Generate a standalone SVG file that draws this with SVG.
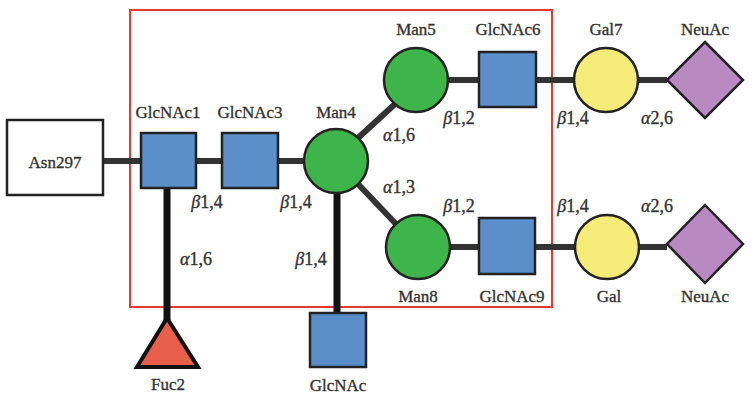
<svg xmlns="http://www.w3.org/2000/svg" width="754" height="394" viewBox="0 0 754 394">
<style>
.t{font-family:"Liberation Serif","Times New Roman",serif;font-size:17px;fill:#333;stroke:#333;stroke-width:0.35;text-anchor:middle}
.lb{font-size:18px}
.g{font-style:italic}
.ln{stroke:#333;stroke-width:6;fill:none}
.lv{stroke:#111;stroke-width:7;fill:none}
.sq{fill:#5b8fc9;stroke:#222;stroke-width:2.5}
.man{fill:#3db54b;stroke:#222;stroke-width:2.5}
.gal{fill:#f5eb78;stroke:#222;stroke-width:2.5}
.neu{fill:#b98ac2;stroke:#222;stroke-width:2.5}
.fuc{fill:#e8604b;stroke:#111;stroke-width:4}
</style>
<rect width="754" height="394" fill="#fff"/>
<rect x="130" y="10" width="422" height="297" fill="none" stroke="#e53935" stroke-width="2"/>
<g id="connectors">
<line class="ln" x1="103" y1="161" x2="141" y2="161"/>
<line class="ln" x1="196" y1="161" x2="222" y2="161"/>
<line class="ln" x1="278" y1="161" x2="304" y2="161"/>
<line class="ln" x1="358" y1="138" x2="395" y2="104"/>
<line class="ln" x1="358" y1="184" x2="396" y2="224"/>
<line class="ln" x1="448" y1="80" x2="479" y2="80"/>
<line class="ln" x1="536" y1="80" x2="574" y2="80"/>
<line class="ln" x1="638" y1="80" x2="667" y2="80"/>
<line class="ln" x1="450" y1="247" x2="479" y2="247"/>
<line class="ln" x1="535" y1="247" x2="575" y2="247"/>
<line class="ln" x1="639" y1="247" x2="667" y2="247"/>
<line class="lv" x1="167" y1="188" x2="167" y2="320"/>
<line class="lv" x1="337" y1="193" x2="337" y2="313"/>
</g>
<g id="asn297"><rect x="7" y="120" width="96" height="75" fill="#fff" stroke="#222" stroke-width="2.5"/><text class="t" x="55" y="168">Asn297</text></g>
<g id="glcnac1"><rect class="sq" x="141" y="133" width="55" height="55"/><text class="t" x="168" y="118">GlcNAc1</text></g>
<g id="glcnac3"><rect class="sq" x="222" y="133" width="56" height="55"/><text class="t" x="250" y="118">GlcNAc3</text></g>
<g id="man4"><circle class="man" cx="336" cy="161" r="32"/><text class="t" x="336" y="118">Man4</text></g>
<g id="man5"><circle class="man" cx="416" cy="80" r="32"/><text class="t" x="416" y="35">Man5</text></g>
<g id="glcnac6"><rect class="sq" x="479" y="52" width="57" height="55"/><text class="t" x="508" y="35">GlcNAc6</text></g>
<g id="gal7"><circle class="gal" cx="606" cy="80" r="32"/><text class="t" x="606" y="35">Gal7</text></g>
<g id="neuac1"><polygon class="neu" points="705,42 743,80 705,118 667,80"/><text class="t" x="705" y="35">NeuAc</text></g>
<g id="man8"><circle class="man" cx="418" cy="247" r="32"/><text class="t" x="418" y="302">Man8</text></g>
<g id="glcnac9"><rect class="sq" x="479" y="218" width="56" height="56"/><text class="t" x="512" y="302">GlcNAc9</text></g>
<g id="gal"><circle class="gal" cx="607" cy="247" r="32"/><text class="t" x="609" y="302">Gal</text></g>
<g id="neuac2"><polygon class="neu" points="705,205 743,244 705,283 667,244"/><text class="t" x="705" y="302">NeuAc</text></g>
<g id="fuc2"><polygon class="fuc" points="167,318 198,367 137,367"/><text class="t" x="168" y="390">Fuc2</text></g>
<g id="glcnac"><rect class="sq" x="310" y="313" width="56" height="54"/><text class="t" x="338" y="391">GlcNAc</text></g>
<g id="labels">
<text class="t lb" x="207" y="208"><tspan class="g">β</tspan>1,4</text>
<text class="t lb" x="296" y="208"><tspan class="g">β</tspan>1,4</text>
<text class="t lb" x="196" y="265"><tspan class="g">α</tspan>1,6</text>
<text class="t lb" x="311" y="265"><tspan class="g">β</tspan>1,4</text>
<text class="t lb" x="399" y="141"><tspan class="g">α</tspan>1,6</text>
<text class="t lb" x="399" y="193"><tspan class="g">α</tspan>1,3</text>
<text class="t lb" x="459" y="124"><tspan class="g">β</tspan>1,2</text>
<text class="t lb" x="573" y="124"><tspan class="g">β</tspan>1,4</text>
<text class="t lb" x="657" y="124"><tspan class="g">α</tspan>2,6</text>
<text class="t lb" x="459" y="212"><tspan class="g">β</tspan>1,2</text>
<text class="t lb" x="573" y="212"><tspan class="g">β</tspan>1,4</text>
<text class="t lb" x="657" y="212"><tspan class="g">α</tspan>2,6</text>
</g>
</svg>
